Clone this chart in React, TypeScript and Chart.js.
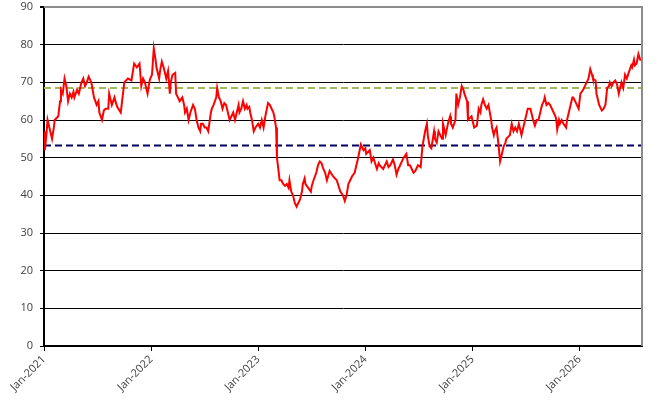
import { useEffect, useRef } from "react"
import { Chart, registerables } from "chart.js"

Chart.register(...registerables)

// months since Jan-2021
const months = [
  0.0, 0.1, 0.3, 0.4, 0.6, 0.9, 1.1, 1.2, 1.6, 1.8, 1.9, 2.1, 2.3, 2.5, 2.7, 2.9, 3.1, 3.3, 3.4, 3.7,
  3.9, 4.2, 4.4, 4.6, 4.8, 5.0, 5.3, 5.6, 5.9, 6.1, 6.2, 6.5, 6.7, 6.9, 7.2, 7.3, 7.6, 7.9, 8.0, 8.2,
  8.6, 8.8, 9.0, 9.4, 9.8, 10.1, 10.4, 10.7, 10.9, 11.1, 11.3, 11.6, 11.8, 11.9, 12.1, 12.3, 12.5, 12.6, 12.9, 13.0,
  13.2, 13.4, 13.5, 13.7, 13.9, 14.1, 14.2, 14.4, 14.7, 14.8, 15.0, 15.2, 15.5, 15.7, 15.8, 16.0, 16.2, 16.4, 16.7, 16.9,
  17.1, 17.3, 17.5, 17.6, 17.8, 18.0, 18.2, 18.4, 18.7, 18.8, 19.0, 19.3, 19.4, 19.6, 19.8, 20.0, 20.2, 20.4, 20.6, 20.8,
  21.0, 21.2, 21.4, 21.6, 21.8, 21.9, 22.1, 22.3, 22.5, 22.7, 22.8, 23.0, 23.1, 23.3, 23.5, 23.7, 24.0, 24.2, 24.4, 24.6,
  24.8, 25.1, 25.3, 25.5, 25.7, 25.8, 26.0, 26.1, 26.3, 26.4, 26.6, 26.8, 27.0, 27.2, 27.4, 27.5, 27.7, 27.9, 28.1, 28.3,
  28.5, 28.7, 28.9, 29.0, 29.2, 29.3, 29.6, 29.9, 30.0, 30.2, 30.5, 30.7, 30.9, 31.1, 31.3, 31.5, 31.7, 32.0, 32.4, 32.8,
  33.2, 33.5, 33.7, 33.9, 34.1, 34.5, 34.8, 35.2, 35.5, 35.8, 36.0, 36.1, 36.5, 36.7, 36.9, 37.3, 37.5, 37.6, 38.0, 38.2,
  38.4, 38.6, 38.8, 39.1, 39.3, 39.5, 39.7, 39.9, 40.1, 40.3, 40.6, 40.8, 41.0, 41.2, 41.4, 41.6, 41.9, 42.2, 42.4, 42.7,
  42.9, 43.0, 43.2, 43.4, 43.7, 43.8, 44.0, 44.2, 44.4, 44.6, 44.7, 44.9, 45.0, 45.3, 45.5, 45.6, 45.8, 46.1, 46.2, 46.4,
  46.6, 46.8, 47.0, 47.1, 47.4, 47.5, 47.7, 47.9, 48.2, 48.5, 48.7, 48.9, 49.0, 49.2, 49.4, 49.6, 49.8, 50.1, 50.2, 50.4,
  50.5, 50.7, 50.9, 51.1, 51.3, 51.5, 51.7, 51.8, 52.2, 52.4, 52.6, 52.8, 53.0, 53.2, 53.3, 53.5, 53.7, 53.9, 54.2, 54.5,
  54.6, 54.8, 55.0, 55.2, 55.4, 55.6, 55.8, 56.0, 56.1, 56.3, 56.5, 56.7, 56.9, 57.1, 57.3, 57.4, 57.5, 57.7, 57.8, 58.0,
  58.2, 58.5, 58.6, 58.8, 59.0, 59.2, 59.3, 59.5, 59.7, 59.9, 60.0, 60.1, 60.4, 60.6, 60.8, 61.0, 61.2, 61.4, 61.5, 61.8,
  61.9, 62.1, 62.2, 62.5, 62.7, 62.9, 63.1, 63.3, 63.4, 63.6, 63.8, 64.0, 64.2, 64.4, 64.6, 64.7, 64.9, 65.1, 65.3, 65.5,
  65.8, 65.9, 66.1, 66.2, 66.4, 66.6, 66.8, 67.0,
]

const values = [
  57, 52, 57, 60, 58, 55, 58, 60, 61, 65, 68, 67, 71, 69, 65, 67, 66, 67.5, 66, 68,
  67, 70, 71, 69, 70, 71.5, 70, 66, 64, 65, 62, 60, 62.5, 63, 63, 67, 64, 66, 65, 63.5,
  62, 66, 70, 71, 70.5, 75, 74, 75, 69, 71, 70, 67, 70, 71, 72, 79, 76, 74, 71, 73,
  75.5, 74, 73, 71, 73, 67, 70, 72, 72.5, 67, 66, 65, 66, 64, 62, 63, 60, 62, 64, 63,
  60, 58, 57, 59, 59, 58, 58, 57, 62, 63, 64, 66, 68.5, 66, 65, 63, 64.5, 64, 62, 60,
  61, 62, 60, 62, 64, 62, 63, 65, 63, 64, 63, 63.5, 62, 60, 57, 58, 59, 58, 60, 58,
  61, 64.5, 64, 63, 62, 61, 58, 50, 46, 44, 44, 43, 42.5, 43, 42, 44, 41, 40, 38, 37,
  38, 39, 41, 43, 44.5, 43, 42, 41, 42.5, 44, 46, 48, 49, 48.5, 47, 46, 44, 46.5, 45, 44,
  41, 40, 38.5, 40, 43, 45, 46, 50, 53.5, 52, 52.5, 51, 52, 49, 50, 47, 48.5, 48, 47, 48,
  49, 47.5, 48, 49.5, 48, 45.5, 47, 48, 49, 50, 51, 48, 48, 47, 46, 46.5, 48, 47.5, 53, 57,
  59, 56, 53, 52.5, 57, 55, 54, 57, 56, 55, 59, 57, 56, 59.5, 61, 59, 58, 60, 67, 64,
  66, 69, 68, 67, 65, 60, 60.5, 61, 58, 58.5, 63, 62, 64, 65.5, 64, 63, 64, 60, 58, 56,
  57, 58, 54, 49, 51, 53, 54, 55, 56, 59, 57, 58, 57, 59, 58, 56, 58, 60, 63, 63,
  62, 60, 58.5, 60, 60, 62, 64, 65, 66, 64, 64.5, 64, 63, 62, 61, 60, 57.5, 60, 59, 60,
  59, 58, 60, 62, 64, 66, 66, 65, 64, 63, 65, 67, 68, 69, 70, 71, 73.5, 72, 71, 70.5,
  67, 65, 64, 62.5, 63, 64, 68.5, 69, 70, 69, 70, 70.5, 69.5, 67, 69, 70, 68.5, 72, 71, 72.5,
  74.5, 74, 76, 74.5, 75, 77.5, 76, 76,
]

const upperLevel = 68.5
const lowerLevel = 53.2
const yearTicks = [0, 12, 24, 36, 48, 60]
const yearLabels = ["Jan-2021", "Jan-2022", "Jan-2023", "Jan-2024", "Jan-2025", "Jan-2026"]
const xMax = 67

const font = { family: "'Open Sans', sans-serif", size: 11 }
const textColor = "#404040"

const framePlugin = {
  id: "frame",
  afterDatasetsDraw(chart: Chart) {
    const { ctx, chartArea } = chart
    ctx.save()
    ctx.strokeStyle = "#8c8c8c"
    ctx.lineWidth = 2
    ctx.beginPath()
    ctx.moveTo(chartArea.left, chartArea.top)
    ctx.lineTo(chartArea.right, chartArea.top)
    ctx.lineTo(chartArea.right, chartArea.bottom)
    ctx.stroke()
    ctx.restore()
  },
}

export default function App() {
  const canvasRef = useRef<HTMLCanvasElement>(null)
  const chartRef = useRef<Chart | null>(null)

  useEffect(() => {
    document.body.style.margin = "0"
    if (!canvasRef.current) return
    if (chartRef.current) chartRef.current.destroy()

    const series = months.map((m, i) => ({ x: m, y: values[i] }))

    chartRef.current = new Chart(canvasRef.current, {
      type: "line",
      data: {
        datasets: [
          {
            data: series,
            borderColor: "#ff0000",
            borderWidth: 2,
            pointRadius: 0,
            tension: 0,
          },
          {
            data: [
              { x: 0, y: upperLevel },
              { x: xMax, y: upperLevel },
            ],
            borderColor: "#9bbb59",
            borderWidth: 2,
            borderDash: [7, 4],
            pointRadius: 0,
          },
          {
            data: [
              { x: 0, y: lowerLevel },
              { x: xMax, y: lowerLevel },
            ],
            borderColor: "#000060",
            borderWidth: 2,
            borderDash: [7, 4],
            pointRadius: 0,
          },
        ],
      },
      options: {
        responsive: false,
        animation: false,
        layout: { padding: { top: 7, right: 19, left: 0, bottom: 0 } },
        plugins: {
          legend: { display: false },
          tooltip: { enabled: false },
        },
        scales: {
          x: {
            type: "linear",
            min: 0,
            max: xMax,
            afterBuildTicks: (scale: any) => {
              scale.ticks = yearTicks.map((v) => ({ value: v }))
            },
            afterFit: (scale: any) => {
              scale.height = 63
              scale.paddingRight = 0
            },
            ticks: {
              callback: (v: any) => yearLabels[yearTicks.indexOf(Number(v))] ?? "",
              maxRotation: 45,
              minRotation: 45,
              autoSkip: false,
              color: textColor,
              font,
              padding: 2,
            },
            grid: {
              drawOnChartArea: false,
              drawTicks: true,
              tickLength: 5,
              color: "#000",
            },
            border: { color: "#000", width: 2 },
          },
          y: {
            min: 0,
            max: 90,
            afterFit: (scale: any) => {
              scale.width = 44
              scale.paddingTop = 0
              scale.paddingBottom = 0
            },
            ticks: { stepSize: 10, color: textColor, font, padding: 7 },
            grid: {
              color: (c: any) => (c.tick && c.tick.value === 90 ? "#8c8c8c" : "#000"),
              lineWidth: (c: any) => (c.tick && c.tick.value === 90 ? 2 : 1),
              tickLength: 4,
              tickColor: "#000",
            },
            border: { color: "#000", width: 2 },
          },
        },
      },
      plugins: [framePlugin],
    })

    return () => {
      if (chartRef.current) {
        chartRef.current.destroy()
        chartRef.current = null
      }
    }
  }, [])

  return (
    <div style={{ width: 661, height: 409, background: "#fff" }}>
      <canvas ref={canvasRef} width={661} height={409} />
    </div>
  )
}
